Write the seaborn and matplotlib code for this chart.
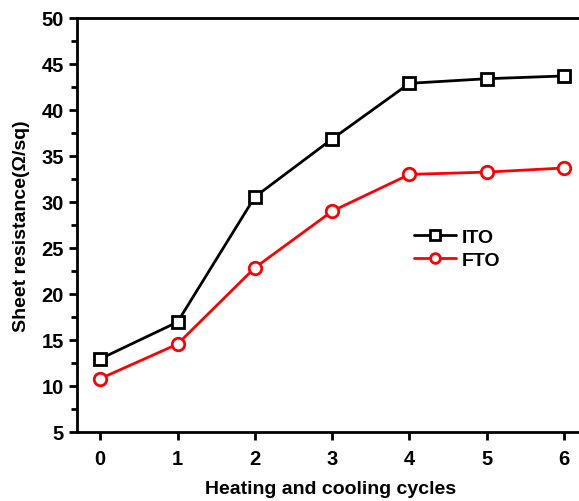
import matplotlib
matplotlib.use("Agg")
import matplotlib.pyplot as plt
import seaborn as sns
import pandas as pd
from matplotlib.ticker import MultipleLocator

cycles = [0, 1, 2, 3, 4, 5, 6]
ito = [12.95, 16.95, 30.55, 36.85, 42.9, 43.4, 43.7]
fto = [10.8, 14.55, 22.85, 29.0, 33.0, 33.25, 33.7]

df = pd.concat([
    pd.DataFrame({"cycle": cycles, "R": ito, "sample": "ITO"}),
    pd.DataFrame({"cycle": cycles, "R": fto, "sample": "FTO"}),
])

sns.set_style("white")
plt.rcParams['font.family'] = ['Liberation Sans', 'DejaVu Sans']
plt.rcParams['font.weight'] = 'bold'
plt.rcParams['text.color'] = 'black'
plt.rcParams['axes.labelcolor'] = 'black'
plt.rcParams['xtick.color'] = 'black'
plt.rcParams['ytick.color'] = 'black'

fig = plt.figure(figsize=(5.79, 5.02), dpi=100)
ax = fig.add_axes([77/579, (502-433)/502, (585-77)/579, (433-19)/502])

sns.lineplot(data=df, x="cycle", y="R", hue="sample", style="sample",
             palette={"ITO": "black", "FTO": "red"},
             markers={"ITO": "s", "FTO": "o"}, dashes=False,
             linewidth=2, markersize=9, markerfacecolor="white",
             markeredgewidth=2, ax=ax)
for line in ax.lines:
    line.set_markerfacecolor("white")
    line.set_markeredgecolor(line.get_color())

ax.set_xlim(-0.3, 6.27)
ax.set_ylim(5, 50)
ax.yaxis.set_major_locator(MultipleLocator(5))
ax.yaxis.set_minor_locator(MultipleLocator(2.5))
ax.set_xticks(cycles)
for s in ax.spines.values():
    s.set_linewidth(2)
    s.set_color("black")
ax.tick_params(axis="both", which="major", direction="out", length=6, width=2,
               labelsize=14.5, bottom=True, left=True, colors="black")
ax.tick_params(axis="x", which="major", pad=6)
ax.tick_params(axis="y", which="minor", direction="out", length=4, width=2, left=True)
for lab in ax.get_xticklabels() + ax.get_yticklabels():
    lab.set_fontweight("bold")

ax.set_xlabel("Heating and cooling cycles", fontsize=14, fontweight="bold", labelpad=9)
ax.set_ylabel("Sheet resistance(Ω/sq)", fontsize=14, fontweight="bold", labelpad=8)

handles, labels = ax.get_legend_handles_labels()
leg = ax.legend(handles, labels, loc="upper left", bbox_to_anchor=(0.628, 0.535),
                frameon=False, fontsize=14, handlelength=2.2, handletextpad=0.3,
                labelspacing=0.3)
for t in leg.get_texts():
    t.set_fontweight("bold")
for h in leg.legend_handles:
    h.set_markerfacecolor("white")
    h.set_markersize(7)

fig.savefig("out.png", dpi=100)
